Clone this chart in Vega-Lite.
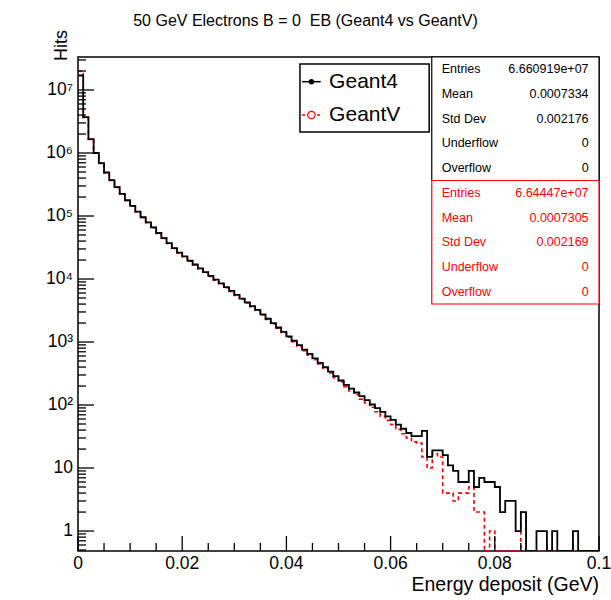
{
  "$schema": "https://vega.github.io/schema/vega-lite/v6.json",
  "width": 521,
  "height": 494,
  "autosize": {"type": "none"},
  "padding": {"left": 78, "top": 57, "right": 12, "bottom": 49},
  "background": "white",
  "config": {
    "font": "Liberation Sans",
    "view": {"stroke": "black", "strokeWidth": 1.5},
    "axis": {"grid": false, "domain": false, "ticks": false}
  },
  "title": {"text": "50 GeV Electrons B = 0\u00a0 EB (Geant4 vs GeantV)", "fontSize": 16, "fontWeight": "normal", "font": "Liberation Sans", "anchor": "middle", "dx": -33, "offset": 1, "color": "black"},
  "datasets": {
    "hist": [
      {"e": 0.000, "g4": 17000000, "gv": 20000000},
      {"e": 0.001, "g4": 3700000, "gv": 3650000},
      {"e": 0.002, "g4": 1660000, "gv": 1640000},
      {"e": 0.003, "g4": 1000000, "gv": 990000},
      {"e": 0.004, "g4": 692000, "gv": 685000},
      {"e": 0.005, "g4": 490000, "gv": 485000},
      {"e": 0.006, "g4": 372000, "gv": 368000},
      {"e": 0.007, "g4": 288000, "gv": 285000},
      {"e": 0.008, "g4": 224000, "gv": 221000},
      {"e": 0.009, "g4": 178000, "gv": 176000},
      {"e": 0.010, "g4": 145000, "gv": 143000},
      {"e": 0.011, "g4": 117500, "gv": 116000},
      {"e": 0.012, "g4": 95500, "gv": 94500},
      {"e": 0.013, "g4": 79400, "gv": 78500},
      {"e": 0.014, "g4": 66100, "gv": 65300},
      {"e": 0.015, "g4": 53700, "gv": 53100},
      {"e": 0.016, "g4": 44700, "gv": 44200},
      {"e": 0.017, "g4": 37200, "gv": 36700},
      {"e": 0.018, "g4": 30900, "gv": 30500},
      {"e": 0.019, "g4": 26300, "gv": 25900},
      {"e": 0.020, "g4": 22900, "gv": 22500},
      {"e": 0.021, "g4": 19500, "gv": 19200},
      {"e": 0.022, "g4": 17000, "gv": 16700},
      {"e": 0.023, "g4": 14800, "gv": 14500},
      {"e": 0.024, "g4": 12900, "gv": 12700},
      {"e": 0.025, "g4": 11200, "gv": 11000},
      {"e": 0.026, "g4": 9770, "gv": 9600},
      {"e": 0.027, "g4": 8510, "gv": 8350},
      {"e": 0.028, "g4": 7410, "gv": 7280},
      {"e": 0.029, "g4": 6460, "gv": 6330},
      {"e": 0.030, "g4": 5620, "gv": 5500},
      {"e": 0.031, "g4": 4900, "gv": 4800},
      {"e": 0.032, "g4": 4270, "gv": 4180},
      {"e": 0.033, "g4": 3720, "gv": 3640},
      {"e": 0.034, "g4": 3240, "gv": 3160},
      {"e": 0.035, "g4": 2750, "gv": 2690},
      {"e": 0.036, "g4": 2340, "gv": 2280},
      {"e": 0.037, "g4": 1995, "gv": 1940},
      {"e": 0.038, "g4": 1700, "gv": 1650},
      {"e": 0.039, "g4": 1445, "gv": 1400},
      {"e": 0.040, "g4": 1230, "gv": 1190},
      {"e": 0.041, "g4": 1047, "gv": 1010},
      {"e": 0.042, "g4": 891, "gv": 860},
      {"e": 0.043, "g4": 759, "gv": 730},
      {"e": 0.044, "g4": 646, "gv": 620},
      {"e": 0.045, "g4": 550, "gv": 525},
      {"e": 0.046, "g4": 468, "gv": 448},
      {"e": 0.047, "g4": 398, "gv": 380},
      {"e": 0.048, "g4": 339, "gv": 322},
      {"e": 0.049, "g4": 288, "gv": 272},
      {"e": 0.050, "g4": 245, "gv": 232},
      {"e": 0.051, "g4": 209, "gv": 196},
      {"e": 0.052, "g4": 182, "gv": 168},
      {"e": 0.053, "g4": 158, "gv": 146},
      {"e": 0.054, "g4": 138, "gv": 124},
      {"e": 0.055, "g4": 120, "gv": 108},
      {"e": 0.056, "g4": 102, "gv": 92},
      {"e": 0.057, "g4": 89, "gv": 78},
      {"e": 0.058, "g4": 78, "gv": 66},
      {"e": 0.059, "g4": 66, "gv": 57},
      {"e": 0.060, "g4": 58, "gv": 49},
      {"e": 0.061, "g4": 49, "gv": 41},
      {"e": 0.062, "g4": 42, "gv": 35},
      {"e": 0.063, "g4": 36, "gv": 30},
      {"e": 0.064, "g4": 32, "gv": 26},
      {"e": 0.065, "g4": 32, "gv": 25},
      {"e": 0.066, "g4": 39, "gv": 15},
      {"e": 0.067, "g4": 15, "gv": 10},
      {"e": 0.068, "g4": 19, "gv": 17},
      {"e": 0.069, "g4": 19, "gv": 15},
      {"e": 0.070, "g4": 16, "gv": 4},
      {"e": 0.071, "g4": 11, "gv": 4},
      {"e": 0.072, "g4": 9, "gv": 3},
      {"e": 0.073, "g4": 6, "gv": 4},
      {"e": 0.074, "g4": 6, "gv": 4},
      {"e": 0.075, "g4": 9, "gv": 5},
      {"e": 0.076, "g4": 5, "gv": 2},
      {"e": 0.077, "g4": 7, "gv": 2},
      {"e": 0.078, "g4": 6, "gv": 0},
      {"e": 0.079, "g4": 6, "gv": 1},
      {"e": 0.080, "g4": 5, "gv": 0},
      {"e": 0.081, "g4": 2, "gv": 0},
      {"e": 0.082, "g4": 3, "gv": 0},
      {"e": 0.083, "g4": 3, "gv": 0},
      {"e": 0.084, "g4": 1, "gv": 0},
      {"e": 0.085, "g4": 2, "gv": 2},
      {"e": 0.086, "g4": 0, "gv": 0},
      {"e": 0.087, "g4": 0, "gv": 0},
      {"e": 0.088, "g4": 1, "gv": 0},
      {"e": 0.089, "g4": 1, "gv": 0},
      {"e": 0.090, "g4": 0, "gv": 0},
      {"e": 0.091, "g4": 1, "gv": 0},
      {"e": 0.092, "g4": 0, "gv": 0},
      {"e": 0.093, "g4": 0, "gv": 0},
      {"e": 0.094, "g4": 0, "gv": 0},
      {"e": 0.095, "g4": 1, "gv": 0},
      {"e": 0.096, "g4": 0, "gv": 0},
      {"e": 0.097, "g4": 0, "gv": 0},
      {"e": 0.098, "g4": 0, "gv": 0},
      {"e": 0.099, "g4": 0, "gv": 0},
      {"e": 0.100, "g4": 0, "gv": 0}
    ],
    "ymajor": [{"v": 1, "label": "1"}, {"v": 10, "label": "10"}, {"v": 100, "label": "10²"}, {"v": 1000, "label": "10³"}, {"v": 10000, "label": "10⁴"}, {"v": 100000, "label": "10⁵"}, {"v": 1000000, "label": "10⁶"}, {"v": 10000000, "label": "10⁷"}],
    "yminor": [{"v": 0.5}, {"v": 0.6}, {"v": 0.7}, {"v": 0.8}, {"v": 0.9},
      {"v": 2}, {"v": 3}, {"v": 4}, {"v": 5}, {"v": 6}, {"v": 7}, {"v": 8}, {"v": 9},
      {"v": 20}, {"v": 30}, {"v": 40}, {"v": 50}, {"v": 60}, {"v": 70}, {"v": 80}, {"v": 90},
      {"v": 200}, {"v": 300}, {"v": 400}, {"v": 500}, {"v": 600}, {"v": 700}, {"v": 800}, {"v": 900},
      {"v": 2000}, {"v": 3000}, {"v": 4000}, {"v": 5000}, {"v": 6000}, {"v": 7000}, {"v": 8000}, {"v": 9000},
      {"v": 20000}, {"v": 30000}, {"v": 40000}, {"v": 50000}, {"v": 60000}, {"v": 70000}, {"v": 80000}, {"v": 90000},
      {"v": 200000}, {"v": 300000}, {"v": 400000}, {"v": 500000}, {"v": 600000}, {"v": 700000}, {"v": 800000}, {"v": 900000},
      {"v": 2000000}, {"v": 3000000}, {"v": 4000000}, {"v": 5000000}, {"v": 6000000}, {"v": 7000000}, {"v": 8000000}, {"v": 9000000},
      {"v": 20000000}, {"v": 30000000}],
    "xmajor": [{"v": 0, "label": "0"}, {"v": 0.02, "label": "0.02"}, {"v": 0.04, "label": "0.04"}, {"v": 0.06, "label": "0.06"}, {"v": 0.08, "label": "0.08"}, {"v": 0.1, "label": "0.1"}],
    "xminor": [{"v": 0.005}, {"v": 0.01}, {"v": 0.015}, {"v": 0.025}, {"v": 0.03}, {"v": 0.035}, {"v": 0.045}, {"v": 0.05}, {"v": 0.055}, {"v": 0.065}, {"v": 0.07}, {"v": 0.075}, {"v": 0.085}, {"v": 0.09}, {"v": 0.095}],
    "stats": [
      {"key": "g4_entries", "stat": "Entries", "value": "6.660919e+07", "hist": "Geant4"},
      {"key": "g4_mean", "stat": "Mean", "value": "0.0007334", "hist": "Geant4"},
      {"key": "g4_std", "stat": "Std Dev", "value": "0.002176", "hist": "Geant4"},
      {"key": "g4_under", "stat": "Underflow", "value": "0", "hist": "Geant4"},
      {"key": "g4_over", "stat": "Overflow", "value": "0", "hist": "Geant4"},
      {"key": "gv_entries", "stat": "Entries", "value": "6.64447e+07", "hist": "GeantV"},
      {"key": "gv_mean", "stat": "Mean", "value": "0.0007305", "hist": "GeantV"},
      {"key": "gv_std", "stat": "Std Dev", "value": "0.002169", "hist": "GeantV"},
      {"key": "gv_under", "stat": "Underflow", "value": "0", "hist": "GeantV"},
      {"key": "gv_over", "stat": "Overflow", "value": "0", "hist": "GeantV"}
    ],
    "boxes": [
      {"hist": "Geant4", "first": "g4_entries", "after": "gv_entries"},
      {"hist": "GeantV", "first": "gv_entries", "after": "r10"}
    ]
  },
  "resolve": {"scale": {"y": "independent"}, "axis": {"x": "independent", "y": "independent"}},
  "layer": [
    {
      "data": {"name": "hist"},
      "layer": [
        {
          "mark": {"type": "line", "interpolate": "step-after", "color": "red", "strokeWidth": 1.6, "strokeDash": [4, 3], "invalid": "show", "clip": true},
          "encoding": {
            "x": {"field": "e", "type": "quantitative", "title": "Energy deposit (GeV)", "scale": {"domain": [0, 0.1], "nice": false, "zero": false}, "axis": null},
            "y": {"field": "gv", "type": "quantitative", "title": "Hits", "scale": {"type": "log", "domain": [0.482, 33400000], "nice": false, "clamp": true}, "axis": null}
          }
        },
        {
          "mark": {"type": "line", "interpolate": "step-after", "color": "black", "strokeWidth": 1.8, "invalid": "show", "clip": true},
          "encoding": {
            "x": {"field": "e", "type": "quantitative", "axis": null},
            "y": {"field": "g4", "type": "quantitative", "axis": null}
          }
        },
        {
          "data": {"name": "ymajor"},
          "mark": {"type": "point", "shape": "M0,0H2", "size": 256, "filled": false, "stroke": "black", "color": "black", "strokeWidth": 1.3, "opacity": 1},
          "encoding": {
            "y": {"field": "v", "type": "quantitative", "axis": null},
            "x": {"datum": 0, "type": "quantitative", "axis": null}
          }
        },
        {
          "data": {"name": "ymajor"},
          "mark": {"type": "text", "align": "right", "baseline": "middle", "dx": -5, "fontSize": 17.5, "color": "black", "font": "Liberation Sans"},
          "encoding": {
            "y": {"field": "v", "type": "quantitative", "axis": null},
            "x": {"datum": 0, "type": "quantitative", "axis": null},
            "text": {"field": "label"}
          }
        },
        {
          "data": {"name": "yminor"},
          "mark": {"type": "point", "shape": "M0,0H2", "size": 64, "filled": false, "stroke": "black", "color": "black", "strokeWidth": 1.3, "opacity": 1},
          "encoding": {
            "y": {"field": "v", "type": "quantitative", "axis": null},
            "x": {"datum": 0, "type": "quantitative", "axis": null}
          }
        },
        {
          "data": {"name": "xmajor"},
          "mark": {"type": "point", "shape": "M0,0V-2", "size": 225, "filled": false, "stroke": "black", "color": "black", "strokeWidth": 1.3, "opacity": 1},
          "encoding": {
            "x": {"field": "v", "type": "quantitative", "axis": null},
            "y": {"datum": 0.482, "type": "quantitative", "axis": null}
          }
        },
        {
          "data": {"name": "xmajor"},
          "mark": {"type": "text", "align": "center", "baseline": "top", "dy": 4, "fontSize": 17.5, "color": "black", "font": "Liberation Sans"},
          "encoding": {
            "x": {"field": "v", "type": "quantitative", "axis": null},
            "y": {"datum": 0.482, "type": "quantitative", "axis": null},
            "text": {"field": "label"}
          }
        },
        {
          "data": {"name": "xminor"},
          "mark": {"type": "point", "shape": "M0,0V-2", "size": 64, "filled": false, "stroke": "black", "color": "black", "strokeWidth": 1.3, "opacity": 1},
          "encoding": {
            "x": {"field": "v", "type": "quantitative", "axis": null},
            "y": {"datum": 0.482, "type": "quantitative", "axis": null}
          }
        },
        {
          "data": {"values": [{"label": "Energy deposit (GeV)"}]},
          "mark": {"type": "text", "align": "right", "baseline": "top", "dy": 25, "fontSize": 19.5, "color": "black", "font": "Liberation Sans"},
          "encoding": {
            "x": {"datum": 0.1, "type": "quantitative", "axis": null},
            "y": {"datum": 0.482, "type": "quantitative", "axis": null},
            "text": {"field": "label"}
          }
        },
        {
          "data": {"values": [{"label": "Hits"}]},
          "mark": {"type": "text", "align": "right", "baseline": "middle", "angle": 270, "dx": 27, "dy": -16, "fontSize": 18, "color": "black", "font": "Liberation Sans"},
          "encoding": {
            "x": {"datum": 0, "type": "quantitative", "axis": null},
            "y": {"datum": 33400000, "type": "quantitative", "axis": null},
            "text": {"field": "label"}
          }
        },
        {
          "data": {"values": [{}]},
          "mark": {"type": "rect", "fill": "white", "stroke": "black", "strokeWidth": 1.5},
          "encoding": {
            "x": {"datum": 0.0426, "type": "quantitative", "axis": null},
            "x2": {"datum": 0.0674},
            "y": {"datum": 25900000, "type": "quantitative", "axis": null},
            "y2": {"datum": 2150000}
          }
        },
        {
          "data": {"values": [{}]},
          "mark": {"type": "rule", "color": "black", "strokeWidth": 1.5},
          "encoding": {
            "x": {"datum": 0.0430, "type": "quantitative", "axis": null},
            "x2": {"datum": 0.0466},
            "y": {"datum": 13550000, "type": "quantitative", "axis": null}
          }
        },
        {
          "data": {"values": [{}]},
          "mark": {"type": "rule", "color": "red", "strokeWidth": 1.5, "strokeDash": [3, 2]},
          "encoding": {
            "x": {"datum": 0.0430, "type": "quantitative", "axis": null},
            "x2": {"datum": 0.0466},
            "y": {"datum": 4010000, "type": "quantitative", "axis": null}
          }
        },
        {
          "data": {"values": [{}]},
          "mark": {"type": "point", "shape": "circle", "filled": true, "color": "black", "size": 30, "opacity": 1},
          "encoding": {
            "x": {"datum": 0.0448, "type": "quantitative", "axis": null},
            "y": {"datum": 13550000, "type": "quantitative", "axis": null}
          }
        },
        {
          "data": {"values": [{}]},
          "mark": {"type": "point", "shape": "circle", "filled": false, "fill": "white", "stroke": "red", "strokeWidth": 1.2, "size": 55, "opacity": 1},
          "encoding": {
            "x": {"datum": 0.0448, "type": "quantitative", "axis": null},
            "y": {"datum": 4010000, "type": "quantitative", "axis": null}
          }
        },
        {
          "data": {"values": [{"label": "Geant4"}]},
          "mark": {"type": "text", "align": "left", "baseline": "middle", "fontSize": 21, "color": "black", "font": "Liberation Sans"},
          "encoding": {
            "x": {"datum": 0.0482, "type": "quantitative", "axis": null},
            "y": {"datum": 13550000, "type": "quantitative", "axis": null},
            "text": {"field": "label"}
          }
        },
        {
          "data": {"values": [{"label": "GeantV"}]},
          "mark": {"type": "text", "align": "left", "baseline": "middle", "fontSize": 21, "color": "black", "font": "Liberation Sans"},
          "encoding": {
            "x": {"datum": 0.0482, "type": "quantitative", "axis": null},
            "y": {"datum": 4010000, "type": "quantitative", "axis": null},
            "text": {"field": "label"}
          }
        }
      ]
    },
    {
      "layer": [
        {
          "data": {"name": "boxes"},
          "mark": {"type": "rect", "fill": "white", "strokeWidth": 1.2},
          "encoding": {
            "x": {"datum": 0.0679, "type": "quantitative", "axis": null},
            "x2": {"datum": 0.1},
            "y": {"field": "first", "type": "nominal", "bandPosition": 0, "axis": null,
              "scale": {"type": "band", "paddingInner": 0, "paddingOuter": 0, "domain": ["g4_entries", "g4_mean", "g4_std", "g4_under", "g4_over", "gv_entries", "gv_mean", "gv_std", "gv_under", "gv_over", "r10", "r11", "r12", "r13", "r14", "r15", "r16", "r17", "r18", "r19"]}},
            "y2": {"field": "after", "bandPosition": 0},
            "stroke": {"field": "hist", "type": "nominal", "scale": {"domain": ["Geant4", "GeantV"], "range": ["black", "red"]}, "legend": null}
          }
        },
        {
          "data": {"name": "stats"},
          "mark": {"type": "text", "align": "left", "baseline": "middle", "fontSize": 12.5, "font": "Liberation Sans"},
          "encoding": {
            "x": {"datum": 0.0698, "type": "quantitative", "axis": null},
            "y": {"field": "key", "type": "nominal", "axis": null},
            "text": {"field": "stat"},
            "fill": {"field": "hist", "type": "nominal", "scale": {"domain": ["Geant4", "GeantV"], "range": ["black", "red"]}, "legend": null}
          }
        },
        {
          "data": {"name": "stats"},
          "mark": {"type": "text", "align": "right", "baseline": "middle", "fontSize": 12.5, "font": "Liberation Sans"},
          "encoding": {
            "x": {"datum": 0.098, "type": "quantitative", "axis": null},
            "y": {"field": "key", "type": "nominal", "axis": null},
            "text": {"field": "value"},
            "fill": {"field": "hist", "type": "nominal", "legend": null}
          }
        }
      ]
    }
  ]
}
